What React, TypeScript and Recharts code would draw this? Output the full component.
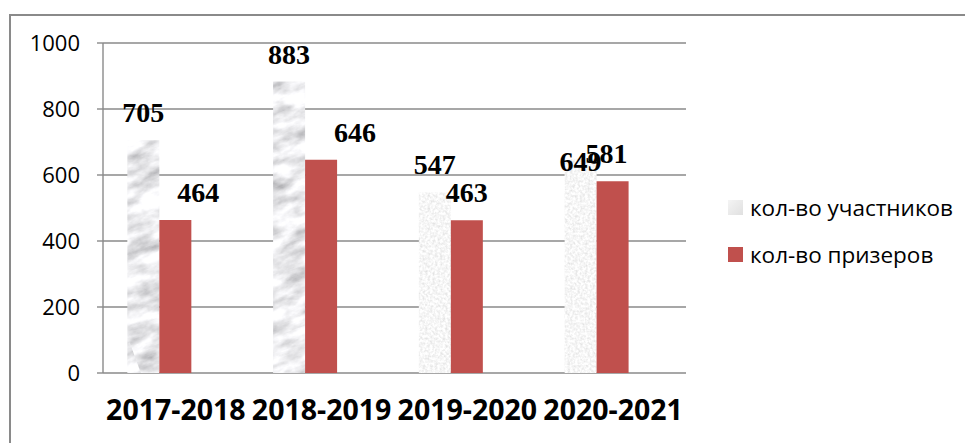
import { BarChart, Bar, XAxis, YAxis, CartesianGrid, Legend, LabelList, Cell } from 'recharts';

const years = ['2017-2018', '2018-2019', '2019-2020', '2020-2021'];
const participants = [705, 883, 547, 649];
const winners = [464, 646, 463, 581];
const placeholder = [null, null, null, null];
const yTicks = [0, 200, 400, 600, 800, 1000];
const edgeTicks = [0, 1, 2, 3, 4];
const legendOrder = ['participants', 'winners'];

// manual nudges of the value labels, as in the original
const participantsLabelShift = [
  [0, 0],
  [0, 0],
  [0, 0],
  [0, 30],
];
const winnersLabelShift = [
  [23, 0],
  [34, 0],
  [0, 0],
  [-6, 0],
];

const data = years.map((year, i) => ({
  year,
  participants: participants[i],
  winners: winners[i],
  placeholder: placeholder[i],
}));

const textureFill = ['url(#marble)', 'url(#marble)', 'url(#granite)', 'url(#granite)'];

const GRID = '#8a8a8a';
const RED = '#C0504D';
const SANS = '"Open Sans", "Liberation Sans", sans-serif';

function makeLabel(shift: number[][]) {
  return (props: any) => {
    const { x, y, width, value, index } = props;
    const [dx, dy] = shift[index] || [0, 0];
    return (
      <text
        x={x + width / 2 + dx}
        y={y - 18 + dy}
        textAnchor="middle"
        fontFamily='"Liberation Serif", "Times New Roman", serif'
        fontWeight="bold"
        fontSize={28}
        fill="#000"
      >
        {value}
      </text>
    );
  };
}

function LegendBox(props: any) {
  const items = (props.payload || [])
    .filter((p: any) => p.type !== 'none')
    .sort((a: any, b: any) => legendOrder.indexOf(a.dataKey) - legendOrder.indexOf(b.dataKey));
  return (
    <div style={{ fontFamily: SANS, fontSize: 22.5, color: '#000' }}>
      {items.map((item: any) => (
        <div key={item.value} style={{ display: 'flex', alignItems: 'center', height: 47 }}>
          <span
            style={{
              display: 'inline-block',
              width: 15,
              height: 15,
              marginRight: 7,
              background: item.dataKey === 'participants' ? 'linear-gradient(135deg, #f4f4f4, #e0e0e0)' : RED,
            }}
          />
          <span>{item.value}</span>
        </div>
      ))}
    </div>
  );
}

export default function App() {
  return (
    <div style={{ position: 'relative', width: 965, height: 435, overflow: 'hidden', background: '#fff' }}>
      <div
        style={{
          position: 'absolute',
          left: 1,
          top: 6,
          width: 2000,
          height: 2000,
          borderTop: `2px solid ${GRID}`,
          borderLeft: `2px solid ${GRID}`,
        }}
      />
      <div style={{ position: 'absolute', left: 0, top: 0 }}>
        <BarChart
          width={965}
          height={435}
          data={data}
          margin={{ top: 35, right: 287, bottom: 0, left: 15 }}
          barCategoryGap="16.7%"
          barGap={0}
        >
          <defs>
            <filter id="marbleF" filterUnits="userSpaceOnUse" x="0" y="0" width="400" height="400">
              <feTurbulence type="fractalNoise" baseFrequency="0.035 0.075" numOctaves="5" seed="11" result="n" />
              <feColorMatrix
                in="n"
                type="matrix"
                values="1.1 0 0 0 0.28  1.1 0 0 0 0.28  1.1 0 0 0 0.3  0 0 0 0 1"
              />
            </filter>
            <pattern
              id="marble"
              patternUnits="userSpaceOnUse"
              width="400"
              height="400"
              patternTransform="rotate(-20)"
            >
              <rect width="400" height="400" filter="url(#marbleF)" />
            </pattern>
            <filter id="graniteF" filterUnits="userSpaceOnUse" x="0" y="0" width="400" height="400">
              <feTurbulence type="fractalNoise" baseFrequency="0.4" numOctaves="2" seed="3" result="n" />
              <feColorMatrix
                in="n"
                type="matrix"
                values="0.45 0 0 0 0.7  0.45 0 0 0 0.7  0.45 0 0 0 0.7  0 0 0 0 1"
              />
            </filter>
            <pattern id="granite" patternUnits="userSpaceOnUse" width="400" height="400">
              <rect width="400" height="400" filter="url(#graniteF)" />
            </pattern>
          </defs>
          <CartesianGrid xAxisId="cat" vertical={false} stroke={GRID} strokeWidth={1.4} />
          <XAxis
            xAxisId="edge"
            type="number"
            domain={[0, 4]}
            ticks={edgeTicks}
            tick={false}
            tickSize={8}
            height={0}
            stroke={GRID}
            strokeWidth={1.4}
          />
          <XAxis
            xAxisId="cat"
            dataKey="year"
            height={70}
            axisLine={false}
            tickLine={false}
            tickSize={0}
            tickMargin={27}
            tick={{ fill: '#000', fontSize: 28.5, fontWeight: 'bold', fontFamily: SANS }}
            interval={0}
          />
          <YAxis
            width={80}
            domain={[0, 1000]}
            ticks={yTicks}
            tickSize={6}
            tickMargin={17}
            stroke={GRID}
            strokeWidth={1.4}
            tick={{ fill: '#000', fontSize: 22, fontFamily: SANS }}
          />
          <Legend
            layout="vertical"
            align="center"
            verticalAlign="middle"
            wrapperStyle={{ left: 720, top: 176, width: 245 }}
            content={<LegendBox />}
          />
          <Bar xAxisId="cat" dataKey="participants" name="кол-во участников" fill="#e6e6e6" isAnimationActive={false}>
            {data.map((_, i) => (
              <Cell key={i} fill={textureFill[i]} />
            ))}
            <LabelList dataKey="participants" content={makeLabel(participantsLabelShift)} />
          </Bar>
          <Bar xAxisId="cat" dataKey="winners" name="кол-во призеров" fill={RED} isAnimationActive={false}>
            <LabelList dataKey="winners" content={makeLabel(winnersLabelShift)} />
          </Bar>
          <Bar xAxisId="cat" dataKey="placeholder" legendType="none" fill="none" isAnimationActive={false} />
        </BarChart>
      </div>
    </div>
  );
}
